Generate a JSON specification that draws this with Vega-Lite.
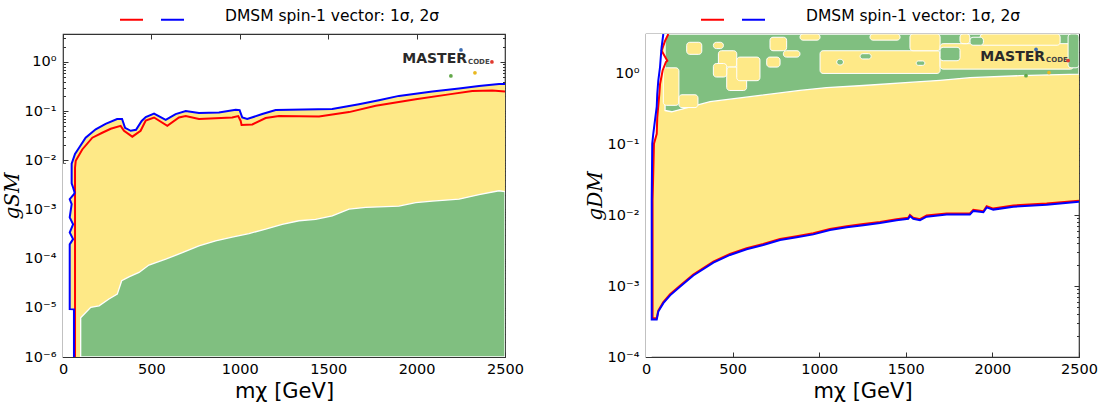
{
  "$schema": "https://vega.github.io/schema/vega-lite/v6.json",
  "background": "white",
  "padding": {"left": 1, "top": 6, "right": 5, "bottom": 5},
  "spacing": 59,
  "datasets": {
    "L_yellow": [
      {"x": 38, "y": 0.0085}, {"x": 49, "y": 0.00851}, {"x": 68, "y": 0.0135}, {"x": 90, "y": 0.0178}, {"x": 128, "y": 0.0288},
      {"x": 185, "y": 0.0427}, {"x": 241, "y": 0.055}, {"x": 306, "y": 0.0692}, {"x": 334, "y": 0.0692}, {"x": 351, "y": 0.0457},
      {"x": 383, "y": 0.0398}, {"x": 413, "y": 0.0417}, {"x": 445, "y": 0.0631}, {"x": 468, "y": 0.0759}, {"x": 515, "y": 0.0891},
      {"x": 581, "y": 0.0661}, {"x": 637, "y": 0.0871}, {"x": 694, "y": 0.1}, {"x": 769, "y": 0.0912}, {"x": 882, "y": 0.0933},
      {"x": 977, "y": 0.107}, {"x": 999, "y": 0.105}, {"x": 1014, "y": 0.0741}, {"x": 1042, "y": 0.0692}, {"x": 1127, "y": 0.0871},
      {"x": 1203, "y": 0.105}, {"x": 1523, "y": 0.11}, {"x": 1674, "y": 0.138}, {"x": 1787, "y": 0.166}, {"x": 1900, "y": 0.204},
      {"x": 2089, "y": 0.251}, {"x": 2240, "y": 0.288}, {"x": 2353, "y": 0.324}, {"x": 2466, "y": 0.355}, {"x": 2500, "y": 0.355}
    ],
    "L_mask": [
      {"x": 62, "y": 1e-6}, {"x": 62, "y": 9.3e-6}, {"x": 38, "y": 9.4e-6}, {"x": 38, "y": 1.95e-4}, {"x": 57, "y": 2.5e-4},
      {"x": 38, "y": 3.4e-4}, {"x": 57, "y": 5.0e-4}, {"x": 38, "y": 6.9e-4}, {"x": 49, "y": 1.29e-3}, {"x": 38, "y": 1.62e-3},
      {"x": 62, "y": 2.04e-3}, {"x": 66, "y": 2.2e-3}, {"x": 57, "y": 2.8e-3}, {"x": 49, "y": 3.4e-3}, {"x": 49, "y": 0.0085}
    ],
    "L_green": [
      {"x": 100, "y": 6.3e-6}, {"x": 157, "y": 1.02e-5}, {"x": 204, "y": 1.1e-5}, {"x": 260, "y": 1.51e-5}, {"x": 307, "y": 1.9e-5},
      {"x": 332, "y": 3.55e-5}, {"x": 373, "y": 4.27e-5}, {"x": 430, "y": 5.25e-5}, {"x": 486, "y": 7.4e-5}, {"x": 581, "y": 9.8e-5},
      {"x": 675, "y": 1.32e-4}, {"x": 769, "y": 1.82e-4}, {"x": 863, "y": 2.29e-4}, {"x": 957, "y": 2.75e-4}, {"x": 1052, "y": 3.24e-4},
      {"x": 1146, "y": 3.98e-4}, {"x": 1240, "y": 5.0e-4}, {"x": 1335, "y": 5.9e-4}, {"x": 1429, "y": 6.3e-4}, {"x": 1523, "y": 7.4e-4},
      {"x": 1618, "y": 1.02e-3}, {"x": 1712, "y": 1.1e-3}, {"x": 1900, "y": 1.17e-3}, {"x": 1995, "y": 1.38e-3}, {"x": 2089, "y": 1.48e-3},
      {"x": 2240, "y": 1.62e-3}, {"x": 2353, "y": 2.0e-3}, {"x": 2466, "y": 2.4e-3}, {"x": 2500, "y": 2.3e-3}
    ],
    "L_lines": [
      {"s": "1σ", "x": 68, "y": 1e-6}, {"s": "1σ", "x": 68, "y": 0.00708}, {"s": "1σ", "x": 72, "y": 0.00977}, {"s": "1σ", "x": 109, "y": 0.0166},
      {"s": "1σ", "x": 166, "y": 0.0288}, {"s": "1σ", "x": 222, "y": 0.0363}, {"s": "1σ", "x": 270, "y": 0.0437}, {"s": "1σ", "x": 326, "y": 0.0501},
      {"s": "1σ", "x": 345, "y": 0.0398}, {"s": "1σ", "x": 392, "y": 0.0302}, {"s": "1σ", "x": 439, "y": 0.0398}, {"s": "1σ", "x": 468, "y": 0.0646},
      {"s": "1σ", "x": 515, "y": 0.0741}, {"s": "1σ", "x": 590, "y": 0.0501}, {"s": "1σ", "x": 656, "y": 0.0741}, {"s": "1σ", "x": 694, "y": 0.0794},
      {"s": "1σ", "x": 769, "y": 0.0692}, {"s": "1σ", "x": 957, "y": 0.0741}, {"s": "1σ", "x": 991, "y": 0.0794}, {"s": "1σ", "x": 1005, "y": 0.0631},
      {"s": "1σ", "x": 1010, "y": 0.0525}, {"s": "1σ", "x": 1071, "y": 0.0537}, {"s": "1σ", "x": 1146, "y": 0.0724}, {"s": "1σ", "x": 1222, "y": 0.0794},
      {"s": "1σ", "x": 1448, "y": 0.0776}, {"s": "1σ", "x": 1618, "y": 0.0955}, {"s": "1σ", "x": 1769, "y": 0.129}, {"s": "1σ", "x": 1995, "y": 0.174},
      {"s": "1σ", "x": 2183, "y": 0.219}, {"s": "1σ", "x": 2315, "y": 0.257}, {"s": "1σ", "x": 2428, "y": 0.263}, {"s": "1σ", "x": 2500, "y": 0.251},
      {"s": "2σ", "x": 62, "y": 1e-6}, {"s": "2σ", "x": 62, "y": 9.3e-6}, {"s": "2σ", "x": 38, "y": 9.4e-6}, {"s": "2σ", "x": 38, "y": 1.95e-4},
      {"s": "2σ", "x": 57, "y": 2.5e-4}, {"s": "2σ", "x": 38, "y": 3.4e-4}, {"s": "2σ", "x": 57, "y": 5.0e-4}, {"s": "2σ", "x": 38, "y": 6.9e-4},
      {"s": "2σ", "x": 49, "y": 1.29e-3}, {"s": "2σ", "x": 38, "y": 1.62e-3}, {"s": "2σ", "x": 62, "y": 2.04e-3}, {"s": "2σ", "x": 66, "y": 2.2e-3},
      {"s": "2σ", "x": 57, "y": 2.8e-3}, {"s": "2σ", "x": 49, "y": 3.4e-3}, {"s": "2σ", "x": 49, "y": 0.00851}, {"s": "2σ", "x": 68, "y": 0.0135},
      {"s": "2σ", "x": 90, "y": 0.0178}, {"s": "2σ", "x": 128, "y": 0.0288}, {"s": "2σ", "x": 185, "y": 0.0427}, {"s": "2σ", "x": 241, "y": 0.055},
      {"s": "2σ", "x": 306, "y": 0.0692}, {"s": "2σ", "x": 334, "y": 0.0692}, {"s": "2σ", "x": 351, "y": 0.0457}, {"s": "2σ", "x": 383, "y": 0.0398},
      {"s": "2σ", "x": 413, "y": 0.0417}, {"s": "2σ", "x": 445, "y": 0.0631}, {"s": "2σ", "x": 468, "y": 0.0759}, {"s": "2σ", "x": 515, "y": 0.0891},
      {"s": "2σ", "x": 581, "y": 0.0661}, {"s": "2σ", "x": 637, "y": 0.0871}, {"s": "2σ", "x": 694, "y": 0.1}, {"s": "2σ", "x": 769, "y": 0.0912},
      {"s": "2σ", "x": 882, "y": 0.0933}, {"s": "2σ", "x": 977, "y": 0.107}, {"s": "2σ", "x": 999, "y": 0.105}, {"s": "2σ", "x": 1014, "y": 0.0741},
      {"s": "2σ", "x": 1042, "y": 0.0692}, {"s": "2σ", "x": 1127, "y": 0.0871}, {"s": "2σ", "x": 1203, "y": 0.105}, {"s": "2σ", "x": 1523, "y": 0.11},
      {"s": "2σ", "x": 1674, "y": 0.138}, {"s": "2σ", "x": 1787, "y": 0.166}, {"s": "2σ", "x": 1900, "y": 0.204}, {"s": "2σ", "x": 2089, "y": 0.251},
      {"s": "2σ", "x": 2240, "y": 0.288}, {"s": "2σ", "x": 2353, "y": 0.324}, {"s": "2σ", "x": 2466, "y": 0.355}, {"s": "2σ", "x": 2500, "y": 0.355}
    ],
    "L_logo": [{"x": 2285, "y": 1.15}],
    "L_dots": [{"x": 2251, "y": 1.75, "c": "b"}, {"x": 2426, "y": 1.0, "c": "r"}, {"x": 2194, "y": 0.52, "c": "g"}, {"x": 2330, "y": 0.6, "c": "y"}],
    "R_yellow": [
      {"x": 33, "y": 3.39e-4}, {"x": 62, "y": 3.39e-4}, {"x": 71, "y": 4.37e-4}, {"x": 100, "y": 5.75e-4}, {"x": 139, "y": 7.41e-4},
      {"x": 196, "y": 9.77e-4}, {"x": 273, "y": 1.41e-3}, {"x": 389, "y": 2.14e-3}, {"x": 485, "y": 2.75e-3}, {"x": 581, "y": 3.31e-3},
      {"x": 677, "y": 3.8e-3}, {"x": 774, "y": 4.47e-3}, {"x": 870, "y": 4.9e-3}, {"x": 966, "y": 5.37e-3}, {"x": 1062, "y": 6.17e-3},
      {"x": 1159, "y": 6.76e-3}, {"x": 1255, "y": 7.24e-3}, {"x": 1351, "y": 7.76e-3}, {"x": 1447, "y": 8.51e-3}, {"x": 1514, "y": 8.91e-3},
      {"x": 1524, "y": 9.77e-3}, {"x": 1543, "y": 8.91e-3}, {"x": 1582, "y": 8.51e-3}, {"x": 1620, "y": 9.55e-3}, {"x": 1736, "y": 0.0102},
      {"x": 1870, "y": 0.0102}, {"x": 1890, "y": 0.0115}, {"x": 1928, "y": 0.0112}, {"x": 1948, "y": 0.011}, {"x": 1967, "y": 0.0129},
      {"x": 2005, "y": 0.012}, {"x": 2121, "y": 0.0132}, {"x": 2313, "y": 0.0141}, {"x": 2500, "y": 0.0155}
    ],
    "R_mask": [
      {"x": 33, "y": 1e-4}, {"x": 33, "y": 0.0162}, {"x": 40, "y": 0.102}, {"x": 62, "y": 0.141}, {"x": 65, "y": 0.24},
      {"x": 77, "y": 0.513}, {"x": 81, "y": 0.708}, {"x": 96, "y": 1.1}, {"x": 115, "y": 1.45}, {"x": 123, "y": 1.51},
      {"x": 90, "y": 2.09}, {"x": 110, "y": 2.88}, {"x": 129, "y": 3.6}
    ],
    "R_band": [
      {"x": 110, "y": 0.3}, {"x": 148, "y": 0.288}, {"x": 370, "y": 0.4}, {"x": 658, "y": 0.49}, {"x": 889, "y": 0.575},
      {"x": 1043, "y": 0.631}, {"x": 1255, "y": 0.676}, {"x": 1563, "y": 0.76}, {"x": 1698, "y": 0.8}, {"x": 1871, "y": 0.871},
      {"x": 2159, "y": 0.93}, {"x": 2500, "y": 0.98}
    ],
    "R_patch": [
      {"k": "y", "x": 100, "x2": 190, "y": 0.355, "y2": 1.2}, {"k": "y", "x": 190, "x2": 300, "y": 0.33, "y2": 0.5},
      {"k": "y", "x": 235, "x2": 322, "y": 1.86, "y2": 2.75}, {"k": "y", "x": 389, "x2": 447, "y": 2.24, "y2": 2.75},
      {"k": "y", "x": 418, "x2": 524, "y": 1.23, "y2": 2.09}, {"k": "y", "x": 466, "x2": 581, "y": 0.575, "y2": 1.23},
      {"k": "y", "x": 389, "x2": 466, "y": 0.89, "y2": 1.38}, {"k": "y", "x": 524, "x2": 658, "y": 0.79, "y2": 1.7},
      {"k": "y", "x": 716, "x2": 812, "y": 2.09, "y2": 3.24}, {"k": "y", "x": 697, "x2": 774, "y": 1.23, "y2": 1.7},
      {"k": "y", "x": 793, "x2": 889, "y": 1.7, "y2": 2.09}, {"k": "y", "x": 889, "x2": 1005, "y": 2.95, "y2": 3.6},
      {"k": "y", "x": 1005, "x2": 1698, "y": 1.0, "y2": 2.09}, {"k": "y", "x": 1524, "x2": 1698, "y": 2.09, "y2": 3.6},
      {"k": "y", "x": 1293, "x2": 1467, "y": 2.95, "y2": 3.6}, {"k": "y", "x": 1698, "x2": 2468, "y": 1.15, "y2": 2.63},
      {"k": "y", "x": 1813, "x2": 1870, "y": 2.63, "y2": 3.6}, {"k": "y", "x": 1929, "x2": 2391, "y": 2.5, "y2": 3.6},
      {"k": "g", "x": 1698, "x2": 1813, "y": 1.51, "y2": 2.34}, {"k": "g", "x": 2437, "x2": 2500, "y": 1.2, "y2": 3.6},
      {"k": "g", "x": 1101, "x2": 1140, "y": 1.32, "y2": 1.58}, {"k": "g", "x": 1871, "x2": 1948, "y": 2.5, "y2": 3.24},
      {"k": "g", "x": 1236, "x2": 1300, "y": 1.6, "y2": 1.9}, {"k": "g", "x": 1560, "x2": 1610, "y": 1.3, "y2": 1.5}
    ],
    "R_lines": [
      {"s": "1σ", "x": 129, "y": 3.6}, {"s": "1σ", "x": 110, "y": 2.88}, {"s": "1σ", "x": 90, "y": 2.09}, {"s": "1σ", "x": 123, "y": 1.51},
      {"s": "1σ", "x": 115, "y": 1.45}, {"s": "1σ", "x": 96, "y": 1.1}, {"s": "1σ", "x": 81, "y": 0.708}, {"s": "1σ", "x": 77, "y": 0.513},
      {"s": "1σ", "x": 65, "y": 0.24}, {"s": "1σ", "x": 62, "y": 0.141}, {"s": "1σ", "x": 46, "y": 0.102}, {"s": "1σ", "x": 38, "y": 0.0162},
      {"s": "1σ", "x": 38, "y": 3.52e-4}, {"s": "1σ", "x": 62, "y": 3.52e-4}, {"s": "1σ", "x": 71, "y": 4.52e-4}, {"s": "1σ", "x": 100, "y": 5.95e-4},
      {"s": "1σ", "x": 139, "y": 7.67e-4}, {"s": "1σ", "x": 196, "y": 1.01e-3}, {"s": "1σ", "x": 273, "y": 1.46e-3}, {"s": "1σ", "x": 389, "y": 2.21e-3},
      {"s": "1σ", "x": 485, "y": 2.85e-3}, {"s": "1σ", "x": 581, "y": 3.43e-3}, {"s": "1σ", "x": 677, "y": 3.93e-3}, {"s": "1σ", "x": 774, "y": 4.63e-3},
      {"s": "1σ", "x": 870, "y": 5.07e-3}, {"s": "1σ", "x": 966, "y": 5.56e-3}, {"s": "1σ", "x": 1062, "y": 6.39e-3}, {"s": "1σ", "x": 1159, "y": 7.0e-3},
      {"s": "1σ", "x": 1255, "y": 7.49e-3}, {"s": "1σ", "x": 1351, "y": 8.03e-3}, {"s": "1σ", "x": 1447, "y": 8.81e-3}, {"s": "1σ", "x": 1514, "y": 9.22e-3},
      {"s": "1σ", "x": 1524, "y": 0.0101}, {"s": "1σ", "x": 1543, "y": 9.22e-3}, {"s": "1σ", "x": 1582, "y": 8.81e-3}, {"s": "1σ", "x": 1620, "y": 9.88e-3},
      {"s": "1σ", "x": 1736, "y": 0.0106}, {"s": "1σ", "x": 1870, "y": 0.0106}, {"s": "1σ", "x": 1890, "y": 0.0119}, {"s": "1σ", "x": 1928, "y": 0.0116},
      {"s": "1σ", "x": 1948, "y": 0.0114}, {"s": "1σ", "x": 1967, "y": 0.0134}, {"s": "1σ", "x": 2005, "y": 0.0124}, {"s": "1σ", "x": 2121, "y": 0.0137},
      {"s": "1σ", "x": 2313, "y": 0.0146}, {"s": "1σ", "x": 2500, "y": 0.016},
      {"s": "2σ", "x": 100, "y": 3.6}, {"s": "2σ", "x": 90, "y": 2.34}, {"s": "2σ", "x": 87, "y": 1.91}, {"s": "2σ", "x": 81, "y": 1.23},
      {"s": "2σ", "x": 71, "y": 0.794}, {"s": "2σ", "x": 65, "y": 0.513}, {"s": "2σ", "x": 62, "y": 0.339}, {"s": "2σ", "x": 52, "y": 0.219},
      {"s": "2σ", "x": 42, "y": 0.141}, {"s": "2σ", "x": 36, "y": 0.102}, {"s": "2σ", "x": 33, "y": 0.0162}, {"s": "2σ", "x": 33, "y": 3.39e-4},
      {"s": "2σ", "x": 62, "y": 3.39e-4}, {"s": "2σ", "x": 71, "y": 4.37e-4}, {"s": "2σ", "x": 100, "y": 5.75e-4}, {"s": "2σ", "x": 139, "y": 7.41e-4},
      {"s": "2σ", "x": 196, "y": 9.77e-4}, {"s": "2σ", "x": 273, "y": 1.41e-3}, {"s": "2σ", "x": 389, "y": 2.14e-3}, {"s": "2σ", "x": 485, "y": 2.75e-3},
      {"s": "2σ", "x": 581, "y": 3.31e-3}, {"s": "2σ", "x": 677, "y": 3.8e-3}, {"s": "2σ", "x": 774, "y": 4.47e-3}, {"s": "2σ", "x": 870, "y": 4.9e-3},
      {"s": "2σ", "x": 966, "y": 5.37e-3}, {"s": "2σ", "x": 1062, "y": 6.17e-3}, {"s": "2σ", "x": 1159, "y": 6.76e-3}, {"s": "2σ", "x": 1255, "y": 7.24e-3},
      {"s": "2σ", "x": 1351, "y": 7.76e-3}, {"s": "2σ", "x": 1447, "y": 8.51e-3}, {"s": "2σ", "x": 1514, "y": 8.91e-3}, {"s": "2σ", "x": 1524, "y": 9.77e-3},
      {"s": "2σ", "x": 1543, "y": 8.91e-3}, {"s": "2σ", "x": 1582, "y": 8.51e-3}, {"s": "2σ", "x": 1620, "y": 9.55e-3}, {"s": "2σ", "x": 1736, "y": 0.0102},
      {"s": "2σ", "x": 1870, "y": 0.0102}, {"s": "2σ", "x": 1890, "y": 0.0115}, {"s": "2σ", "x": 1928, "y": 0.0112}, {"s": "2σ", "x": 1948, "y": 0.011},
      {"s": "2σ", "x": 1967, "y": 0.0129}, {"s": "2σ", "x": 2005, "y": 0.012}, {"s": "2σ", "x": 2121, "y": 0.0132}, {"s": "2σ", "x": 2313, "y": 0.0141},
      {"s": "2σ", "x": 2500, "y": 0.0155}
    ],
    "R_logo": [{"x": 2304, "y": 1.68}],
    "R_dots": [{"x": 2252, "y": 2.18, "c": "b"}, {"x": 2437, "y": 1.52, "c": "r"}, {"x": 2194, "y": 0.93, "c": "g"}, {"x": 2327, "y": 1.03, "c": "y"}]
  },
  "hconcat": [
    {
      "width": 442,
      "height": 323,
      "layer": [
        {
          "data": {"name": "L_yellow"},
          "mark": {"type": "area", "fill": "#FEE987", "clip": true},
          "encoding": {
            "x": {"field": "x", "type": "quantitative", "scale": {"domain": [0, 2500], "nice": false, "zero": false},
              "axis": {"values": [0, 500, 1000, 1500, 2000, 2500], "format": "d", "tickSize": -5, "labelPadding": 10, "title": "mχ [GeV]", "titleFontSize": 21, "titlePadding": 5}},
            "y": {"field": "y", "type": "quantitative", "scale": {"type": "log", "domain": [1e-6, 3.7], "nice": false},
              "axis": {
                "values": [1e-6, 2e-6, 3e-6, 4e-6, 5e-6, 6e-6, 7e-6, 8e-6, 9e-6, 1e-5, 2e-5, 3e-5, 4e-5, 5e-5, 6e-5, 7e-5, 8e-5, 9e-5, 0.0001, 0.0002, 0.0003, 0.0004, 0.0005, 0.0006, 0.0007, 0.0008, 0.0009, 0.001, 0.002, 0.003, 0.004, 0.005, 0.006, 0.007, 0.008, 0.009, 0.01, 0.02, 0.03, 0.04, 0.05, 0.06, 0.07, 0.08, 0.09, 0.1, 0.2, 0.3, 0.4, 0.5, 0.6, 0.7, 0.8, 0.9, 1, 2, 3],
                "labelExpr": "abs(log(datum.value)/LN10 - round(log(datum.value)/LN10)) < 0.01 ? ['10⁰','10⁻¹','10⁻²','10⁻³','10⁻⁴','10⁻⁵','10⁻⁶'][-round(log(datum.value)/LN10)] : ''",
                "tickSize": {"condition": {"test": "abs(log(datum.value)/LN10 - round(log(datum.value)/LN10)) < 0.01", "value": -5}, "value": -2.5},
                "labelPadding": 12, "title": "gSM", "titleFont": "DejaVu Serif", "titleFontStyle": "italic", "titleFontSize": 20, "titlePadding": 2}},
            "y2": {"datum": 1e-6}
          }
        },
        {
          "data": {"name": "L_mask"},
          "mark": {"type": "area", "fill": "white", "orient": "horizontal", "clip": true},
          "encoding": {
            "y": {"field": "y", "type": "quantitative", "axis": null},
            "x": {"field": "x", "type": "quantitative", "axis": null},
            "x2": {"datum": 0}
          }
        },
        {
          "data": {"name": "L_green"},
          "mark": {"type": "area", "fill": "#80BF80", "stroke": "white", "strokeWidth": 1.3, "clip": true},
          "encoding": {
            "x": {"field": "x", "type": "quantitative", "axis": null},
            "y": {"field": "y", "type": "quantitative", "axis": null},
            "y2": {"datum": 1e-6}
          }
        },
        {
          "data": {"name": "L_lines"},
          "mark": {"type": "line", "strokeWidth": 2, "clip": true},
          "encoding": {
            "x": {"field": "x", "type": "quantitative", "axis": null},
            "y": {"field": "y", "type": "quantitative", "axis": null},
            "order": {"value": null},
            "color": {"field": "s", "type": "nominal", "scale": {"domain": ["1σ", "2σ"], "range": ["#FF0000", "#0000FF"]},
              "legend": {"orient": "none", "legendX": 56, "legendY": -27, "direction": "horizontal", "title": "DMSM spin-1 vector: 1σ, 2σ",
                "titleOrient": "right", "titlePadding": 37, "labelExpr": "''", "labelOffset": 0, "columnPadding": 10}}
          }
        },
        {
          "data": {"name": "L_logo"},
          "mark": {"type": "text", "text": "MASTER", "align": "right", "baseline": "middle", "font": "DejaVu Sans", "fontWeight": "bold", "fontSize": 14, "color": "#2a2a2a"},
          "encoding": {
            "x": {"field": "x", "type": "quantitative", "axis": null},
            "y": {"field": "y", "type": "quantitative", "axis": null}
          }
        },
        {
          "data": {"name": "L_logo"},
          "mark": {"type": "text", "text": "CODE", "align": "left", "baseline": "middle", "dx": 1, "dy": 3, "font": "DejaVu Sans", "fontWeight": "bold", "fontSize": 7, "color": "#444"},
          "encoding": {
            "x": {"field": "x", "type": "quantitative", "axis": null},
            "y": {"field": "y", "type": "quantitative", "axis": null}
          }
        },
        {
          "data": {"name": "L_dots"},
          "mark": {"type": "point", "filled": true, "size": 14, "opacity": 1},
          "encoding": {
            "x": {"field": "x", "type": "quantitative", "axis": null},
            "y": {"field": "y", "type": "quantitative", "axis": null},
            "fill": {"field": "c", "type": "nominal", "scale": {"domain": ["b", "r", "g", "y"], "range": ["#3B6DB3", "#E03A2F", "#63A84A", "#E9B820"]}, "legend": null}
          }
        },
        {
          "data": {"name": "L_yellow"},
          "mark": {"type": "point", "opacity": 0},
          "encoding": {
            "x": {"field": "x", "type": "quantitative", "axis": {"orient": "top", "values": [0, 500, 1000, 1500, 2000, 2500], "labels": false, "tickSize": -5, "title": null}},
            "y": {"field": "y", "type": "quantitative", "axis": {"orient": "right", "labels": false, "title": null,
              "values": [1e-6, 2e-6, 3e-6, 4e-6, 5e-6, 6e-6, 7e-6, 8e-6, 9e-6, 1e-5, 2e-5, 3e-5, 4e-5, 5e-5, 6e-5, 7e-5, 8e-5, 9e-5, 0.0001, 0.0002, 0.0003, 0.0004, 0.0005, 0.0006, 0.0007, 0.0008, 0.0009, 0.001, 0.002, 0.003, 0.004, 0.005, 0.006, 0.007, 0.008, 0.009, 0.01, 0.02, 0.03, 0.04, 0.05, 0.06, 0.07, 0.08, 0.09, 0.1, 0.2, 0.3, 0.4, 0.5, 0.6, 0.7, 0.8, 0.9, 1, 2, 3],
              "tickSize": {"condition": {"test": "abs(log(datum.value)/LN10 - round(log(datum.value)/LN10)) < 0.01", "value": -5}, "value": -2.5}}}
          }
        }
      ],
      "resolve": {"axis": {"x": "independent", "y": "independent"}}
    },
    {
      "width": 433,
      "height": 323,
      "layer": [
        {
          "data": {"name": "R_yellow"},
          "mark": {"type": "area", "fill": "#FEE987", "clip": true},
          "encoding": {
            "x": {"field": "x", "type": "quantitative", "scale": {"domain": [0, 2500], "nice": false, "zero": false},
              "axis": {"values": [0, 500, 1000, 1500, 2000, 2500], "format": "d", "tickSize": -5, "labelPadding": 10, "title": "mχ [GeV]", "titleFontSize": 21, "titlePadding": 5}},
            "y": {"field": "y", "type": "quantitative", "scale": {"type": "log", "domain": [1e-4, 3.6], "nice": false},
              "axis": {
                "values": [0.0001, 0.0002, 0.0003, 0.0004, 0.0005, 0.0006, 0.0007, 0.0008, 0.0009, 0.001, 0.002, 0.003, 0.004, 0.005, 0.006, 0.007, 0.008, 0.009, 0.01, 0.02, 0.03, 0.04, 0.05, 0.06, 0.07, 0.08, 0.09, 0.1, 0.2, 0.3, 0.4, 0.5, 0.6, 0.7, 0.8, 0.9, 1, 2, 3],
                "labelExpr": "abs(log(datum.value)/LN10 - round(log(datum.value)/LN10)) < 0.01 ? ['10⁰','10⁻¹','10⁻²','10⁻³','10⁻⁴','10⁻⁵','10⁻⁶'][-round(log(datum.value)/LN10)] : ''",
                "tickSize": {"condition": {"test": "abs(log(datum.value)/LN10 - round(log(datum.value)/LN10)) < 0.01", "value": -5}, "value": -2.5},
                "labelPadding": 12, "title": "gDM", "titleFont": "DejaVu Serif", "titleFontStyle": "italic", "titleFontSize": 20, "titlePadding": 2}},
            "y2": {"datum": 3.6}
          }
        },
        {
          "data": {"name": "R_band"},
          "mark": {"type": "area", "fill": "#80BF80", "stroke": "white", "strokeWidth": 1.3, "clip": true},
          "encoding": {
            "x": {"field": "x", "type": "quantitative", "axis": null},
            "y": {"field": "y", "type": "quantitative", "axis": null},
            "y2": {"datum": 3.6}
          }
        },
        {
          "data": {"name": "R_patch"},
          "transform": [{"filter": "datum.k == 'y'"}],
          "mark": {"type": "rect", "fill": "#FEE987", "stroke": "white", "strokeWidth": 1, "cornerRadius": 3, "clip": true},
          "encoding": {
            "x": {"field": "x", "type": "quantitative", "axis": null},
            "x2": {"field": "x2"},
            "y": {"field": "y", "type": "quantitative", "axis": null},
            "y2": {"field": "y2"}
          }
        },
        {
          "data": {"name": "R_patch"},
          "transform": [{"filter": "datum.k == 'g'"}],
          "mark": {"type": "rect", "fill": "#80BF80", "stroke": "white", "strokeWidth": 1, "cornerRadius": 3, "clip": true},
          "encoding": {
            "x": {"field": "x", "type": "quantitative", "axis": null},
            "x2": {"field": "x2"},
            "y": {"field": "y", "type": "quantitative", "axis": null},
            "y2": {"field": "y2"}
          }
        },
        {
          "data": {"name": "R_mask"},
          "mark": {"type": "area", "fill": "white", "orient": "horizontal", "clip": true},
          "encoding": {
            "y": {"field": "y", "type": "quantitative", "axis": null},
            "x": {"field": "x", "type": "quantitative", "axis": null},
            "x2": {"datum": 0}
          }
        },
        {
          "data": {"name": "R_lines"},
          "mark": {"type": "line", "strokeWidth": 2, "clip": true},
          "encoding": {
            "x": {"field": "x", "type": "quantitative", "axis": null},
            "y": {"field": "y", "type": "quantitative", "axis": null},
            "order": {"value": null},
            "color": {"field": "s", "type": "nominal", "scale": {"domain": ["1σ", "2σ"], "range": ["#FF0000", "#0000FF"]},
              "legend": {"orient": "none", "legendX": 54, "legendY": -27, "direction": "horizontal", "title": "DMSM spin-1 vector: 1σ, 2σ",
                "titleOrient": "right", "titlePadding": 37, "labelExpr": "''", "labelOffset": 0, "columnPadding": 10}}
          }
        },
        {
          "data": {"name": "R_logo"},
          "mark": {"type": "text", "text": "MASTER", "align": "right", "baseline": "middle", "font": "DejaVu Sans", "fontWeight": "bold", "fontSize": 14, "color": "#2a2a2a"},
          "encoding": {
            "x": {"field": "x", "type": "quantitative", "axis": null},
            "y": {"field": "y", "type": "quantitative", "axis": null}
          }
        },
        {
          "data": {"name": "R_logo"},
          "mark": {"type": "text", "text": "CODE", "align": "left", "baseline": "middle", "dx": 1, "dy": 3, "font": "DejaVu Sans", "fontWeight": "bold", "fontSize": 7, "color": "#444"},
          "encoding": {
            "x": {"field": "x", "type": "quantitative", "axis": null},
            "y": {"field": "y", "type": "quantitative", "axis": null}
          }
        },
        {
          "data": {"name": "R_dots"},
          "mark": {"type": "point", "filled": true, "size": 14, "opacity": 1},
          "encoding": {
            "x": {"field": "x", "type": "quantitative", "axis": null},
            "y": {"field": "y", "type": "quantitative", "axis": null},
            "fill": {"field": "c", "type": "nominal", "scale": {"domain": ["b", "r", "g", "y"], "range": ["#3B6DB3", "#E03A2F", "#63A84A", "#E9B820"]}, "legend": null}
          }
        },
        {
          "data": {"name": "R_yellow"},
          "mark": {"type": "point", "opacity": 0},
          "encoding": {
            "x": {"field": "x", "type": "quantitative", "axis": {"orient": "top", "values": [0, 500, 1000, 1500, 2000, 2500], "labels": false, "tickSize": -5, "title": null}},
            "y": {"field": "y", "type": "quantitative", "axis": {"orient": "right", "labels": false, "title": null,
              "values": [0.0001, 0.0002, 0.0003, 0.0004, 0.0005, 0.0006, 0.0007, 0.0008, 0.0009, 0.001, 0.002, 0.003, 0.004, 0.005, 0.006, 0.007, 0.008, 0.009, 0.01, 0.02, 0.03, 0.04, 0.05, 0.06, 0.07, 0.08, 0.09, 0.1, 0.2, 0.3, 0.4, 0.5, 0.6, 0.7, 0.8, 0.9, 1, 2, 3],
              "tickSize": {"condition": {"test": "abs(log(datum.value)/LN10 - round(log(datum.value)/LN10)) < 0.01", "value": -5}, "value": -2.5}}}
          }
        }
      ],
      "resolve": {"axis": {"x": "independent", "y": "independent"}}
    }
  ],
  "resolve": {"scale": {"color": "independent"}, "legend": {"color": "independent"}},
  "config": {
    "font": "DejaVu Sans",
    "view": {"stroke": "#333", "strokeWidth": 1.2},
    "axis": {"domain": false, "grid": false, "labelFont": "DejaVu Sans", "labelFontSize": 14.5, "labelColor": "#000",
      "tickColor": "#333", "tickWidth": 1, "titleFont": "DejaVu Sans", "titleFontWeight": "normal", "titleColor": "#000",
      "labelOverlap": false, "labelFlush": false},
    "legend": {"symbolType": "stroke", "symbolSize": 529, "symbolStrokeWidth": 2, "titleFont": "DejaVu Sans", "titleFontSize": 15.5,
      "titleFontWeight": "normal", "titleColor": "#000", "titleLimit": 400, "padding": 0}
  }
}
